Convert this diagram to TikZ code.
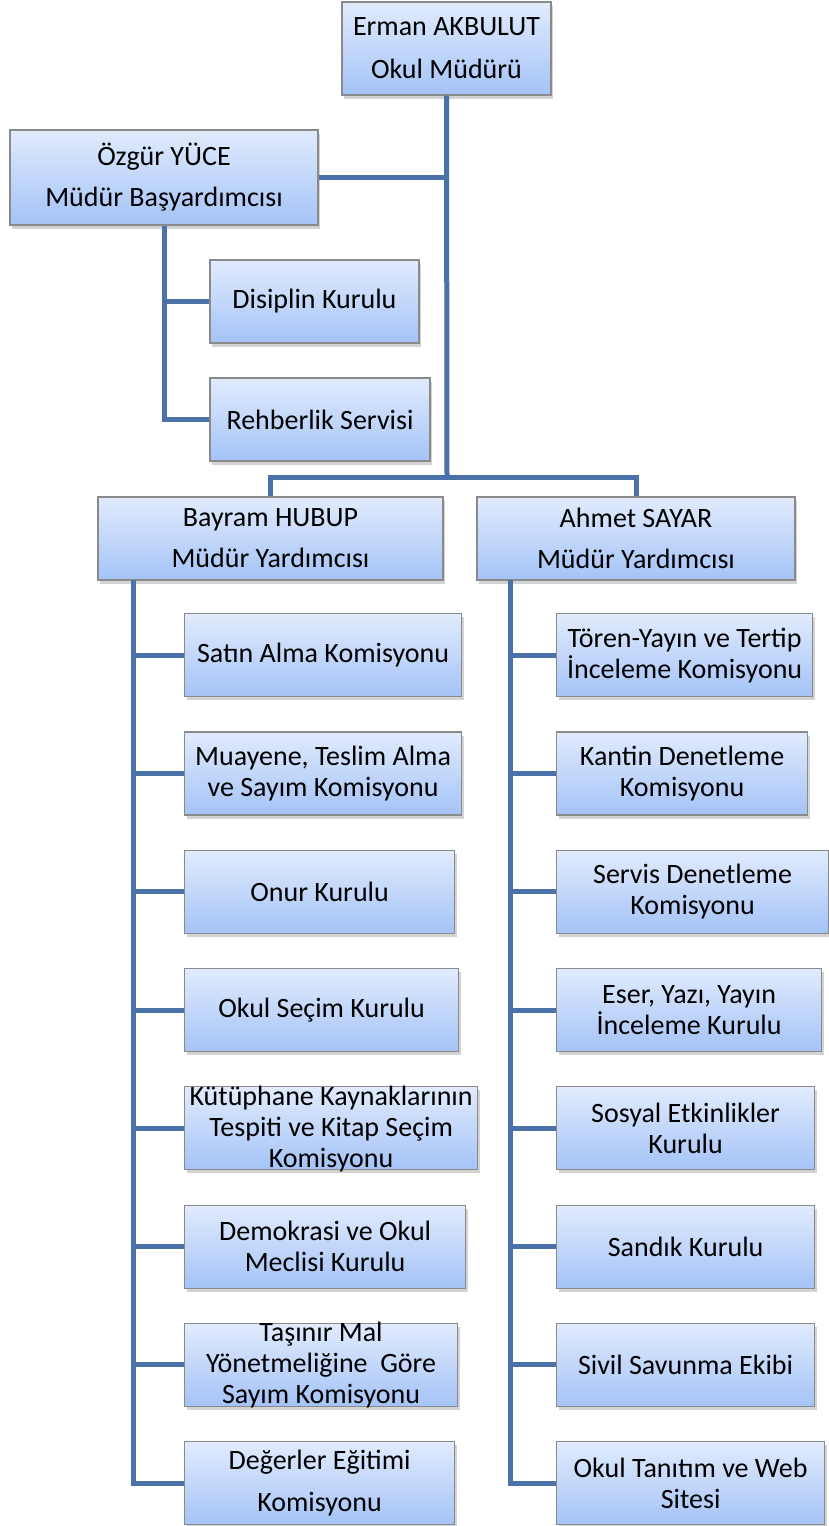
\documentclass[tikz,border=0pt]{standalone}
\usepackage{fontspec}
\setmainfont{Carlito}
\usetikzlibrary{shadows,positioning}
\definecolor{linkblue}{HTML}{4A72A9}
\definecolor{boxtop}{HTML}{E1EBFD}
\definecolor{boxbottom}{HTML}{A4C3F7}
\definecolor{boxedge}{HTML}{8A8A8A}
\tikzstyle{unit}=[rectangle, draw=boxedge, line width=0.6pt,
    top color=boxtop, bottom color=boxbottom,
    align=center, inner sep=2pt, minimum height=41.5pt,
    font=\fontsize{14}{15.5}\selectfont,
    drop shadow={shadow xshift=1.2pt, shadow yshift=-1.8pt, opacity=0.35}]
\tikzstyle{link}=[draw=linkblue, line width=2.5pt]
% text that runs over the box edge
\newcommand{\spill}[1]{\smash{\raisebox{-4.5pt}{\begin{tabular}{@{}c@{}}#1\end{tabular}}}}

\begin{document}
\begin{tikzpicture}[x=0.5pt, y=0.5pt, node distance=17.05pt]
    \useasboundingbox (0,0) rectangle (829,-1526);

    % head and deputy
    \node [unit, minimum width=104.5pt, minimum height=46.5pt] (erman) at (446.5,-48.5)
        {Erman AKBULUT\\[6pt]Okul Müdürü};
    \node [unit, minimum width=154pt, minimum height=47.5pt] (ozgur) at (164,-177.5)
        {Özgür YÜCE\\[5pt]Müdür Başyardımcısı};
    \node [unit, minimum width=104.5pt] (disiplin) at (314.5,-301.5) {Disiplin Kurulu};
    \node [unit, minimum width=110pt] (rehber) at (320,-419.5) {Rehberlik Servisi};

    % assistants
    \node [unit, minimum width=172.5pt] (bayram) at (270.5,-538.5)
        {Bayram HUBUP\\[5pt]Müdür Yardımcısı};
    \node [unit, minimum width=159pt] (ahmet) at (636,-538.5)
        {Ahmet SAYAR\\[5pt]Müdür Yardımcısı};

    % left column
    \node [unit, minimum width=138.5pt, anchor=north west] (satin) at (184,-613)
        {Satın Alma Komisyonu};
    \node [unit, minimum width=138.5pt, below=of satin.south west, anchor=north west] (muayene)
        {Muayene, Teslim Alma\\ve Sayım Komisyonu};
    \node [unit, minimum width=135pt, below=of muayene.south west, anchor=north west] (onur)
        {Onur Kurulu};
    \node [unit, minimum width=137pt, below=of onur.south west, anchor=north west] (secim)
        {Okul Seçim Kurulu};
    \node [unit, minimum width=146.5pt, below=of secim.south west, anchor=north west] (kutup)
        {\spill{Kütüphane Kaynaklarının\\Tespiti ve Kitap Seçim\\Komisyonu}};
    \node [unit, minimum width=140.5pt, below=of kutup.south west, anchor=north west] (demokrasi)
        {Demokrasi ve Okul\\Meclisi Kurulu};
    \node [unit, minimum width=136.5pt, below=of demokrasi.south west, anchor=north west] (tasinir)
        {\spill{Taşınır Mal\\Yönetmeliğine\ \ Göre\\Sayım Komisyonu}};
    \node [unit, minimum width=135pt, below=of tasinir.south west, anchor=north west] (degerler)
        {Değerler Eğitimi\\[5.5pt]Komisyonu};

    % right column
    \node [unit, minimum width=128pt, anchor=north west] (toren) at (556,-613)
        {Tören-Yayın ve Tertip\\İnceleme Komisyonu};
    \node [unit, minimum width=125.5pt, below=of toren.south west, anchor=north west] (kantin)
        {Kantin Denetleme\\Komisyonu};
    \node [unit, minimum width=136pt, below=of kantin.south west, anchor=north west] (servis)
        {Servis Denetleme\\Komisyonu};
    \node [unit, minimum width=132.5pt, below=of servis.south west, anchor=north west] (eser)
        {Eser, Yazı, Yayın\\İnceleme Kurulu};
    \node [unit, minimum width=129pt, below=of eser.south west, anchor=north west] (sosyal)
        {Sosyal Etkinlikler\\Kurulu};
    \node [unit, minimum width=129pt, below=of sosyal.south west, anchor=north west] (sandik)
        {Sandık Kurulu};
    \node [unit, minimum width=129pt, below=of sandik.south west, anchor=north west] (sivil)
        {Sivil Savunma Ekibi};
    \node [unit, minimum width=134pt, below=of sivil.south west, anchor=north west] (tanitim)
        {Okul Tanıtım ve Web\\Sitesi};

    \coordinate (hub) at (447,-477);
    \coordinate (bspine) at (133,-580);
    \coordinate (aspine) at (510,-580);

    \draw [link] (erman.south) -- (hub);
    \draw [link] (ozgur.east) -- (ozgur.east -| erman.south);
    \draw [link] (bayram.north) |- (hub) -| (ahmet.north);
    \draw [link] (ozgur.south) |- (disiplin.west);
    \draw [link] (ozgur.south) |- (rehber.west);
    \foreach \n in {satin,muayene,onur,secim,kutup,demokrasi,tasinir,degerler}
        \draw [link] (bspine) |- (\n.west);
    \foreach \n in {toren,kantin,servis,eser,sosyal,sandik,sivil,tanitim}
        \draw [link] (aspine) |- (\n.west);
\end{tikzpicture}
\end{document}
